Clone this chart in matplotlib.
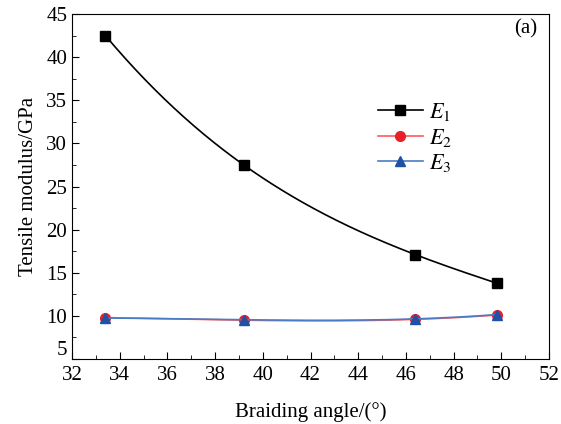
import numpy as np
import matplotlib.pyplot as plt
from matplotlib.ticker import MultipleLocator, FuncFormatter

plt.rcParams['font.family'] = ['Liberation Serif', 'DejaVu Serif']
plt.rcParams['mathtext.fontset'] = 'stix'

angles = [33.4, 39.2, 46.4, 49.8]
e1 = [42.5, 27.5, 17.1, 13.8]
e2 = [9.8, 9.5, 9.6, 10.1]
e3 = [9.75, 9.55, 9.65, 10.15]

fig = plt.figure(figsize=(5.61, 4.24), dpi=100)
ax = fig.add_axes([72 / 561, 1 - 359 / 424, 477 / 561, 345 / 424])


def smooth(x, y):
    # cubic through the measured points, only used to draw the connecting curve
    c = np.polyfit(x, y, 3)
    xs = np.linspace(min(x), max(x), 200)
    return xs, np.polyval(c, xs)


series = [
    (e1, 'black', 'black', 's', '$E_1$'),
    (e2, '#ff5a5a', '#e8202a', 'o', '$E_2$'),
    (e3, '#4a7cc4', '#2051a6', '^', '$E_3$'),
]
for vals, lc, mc, mk, lab in series:
    xs, ys = smooth(angles, vals)
    ax.plot(xs, ys, color=lc, lw=1.2)
    ax.plot(angles, vals, ls='none', marker=mk, color=mc, ms=7)
    ax.plot([], [], color=lc, lw=1.2, marker=mk, mfc=mc, mec=mc, ms=7, label=lab)

ax.set_xlim(32, 52)
ax.set_ylim(5, 45)
ax.xaxis.set_major_locator(MultipleLocator(2))
ax.xaxis.set_minor_locator(MultipleLocator(1))
ax.yaxis.set_major_locator(MultipleLocator(5))
ax.yaxis.set_minor_locator(MultipleLocator(2.5))
# the bottom "5" is drawn separately, lifted a little like in Origin
ax.yaxis.set_major_formatter(FuncFormatter(lambda v, p: '' if v <= 5 else f'{v:g}'))
ax.annotate('5', xy=(0, 5), xycoords=('axes fraction', 'data'), xytext=(-3.5, 6),
            textcoords='offset points', ha='right', va='center', fontsize=15)
ax.tick_params(which='both', direction='in', labelsize=15, top=False, right=False)
ax.tick_params(which='major', length=5)
ax.tick_params(which='minor', length=3)
ax.tick_params(axis='x', pad=5)

ax.set_xlabel('Braiding angle/(°)', fontsize=15, labelpad=12)
ax.set_ylabel('Tensile modulus/GPa', fontsize=15, labelpad=6)
ax.text(0.975, 0.985, '(a)', transform=ax.transAxes, ha='right', va='top', fontsize=15)

ax.legend(loc='upper left', bbox_to_anchor=(0.6, 0.805), frameon=False, fontsize=16,
          handlelength=2.0, handletextpad=0.3, labelspacing=0.15)

fig.savefig('out.png', dpi=100)
